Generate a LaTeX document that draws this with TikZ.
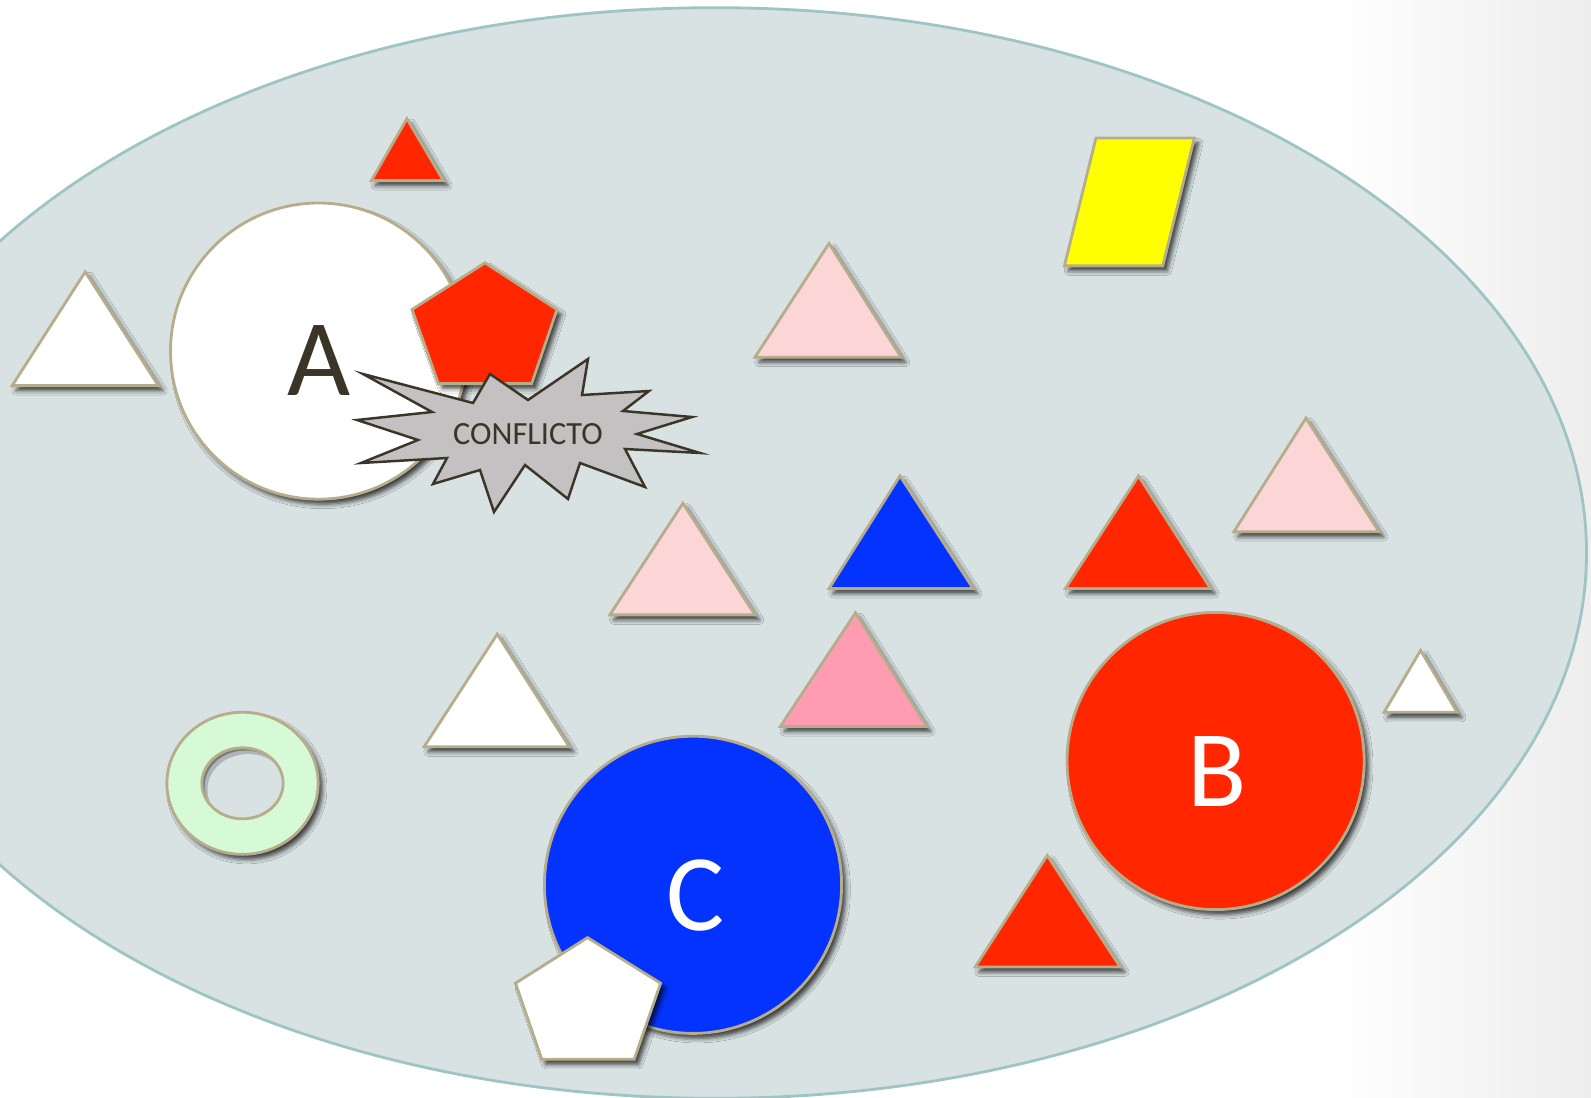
\documentclass[tikz,border=0pt]{standalone}
\usepackage{fontspec}
\setmainfont{Carlito}
\usepackage{tikz}
\usetikzlibrary{shadows.blur}

\definecolor{fondo}{HTML}{D9E2E3}
\definecolor{bordeel}{HTML}{9FC4C4}
\definecolor{caqui}{HTML}{B7AD8B}
\definecolor{rojo}{HTML}{FF2600}
\definecolor{azul}{HTML}{0433FF}
\definecolor{rosa}{HTML}{FCD5D6}
\definecolor{rosao}{HTML}{FF9CB1}
\definecolor{verde}{HTML}{D5FAD5}
\definecolor{gris}{HTML}{C3C1C1}
\definecolor{tinta}{HTML}{3A3527}
\definecolor{amarillo}{HTML}{FFFF00}

\tikzset{
  figura/.style={draw=caqui, line width=0.8pt, line join=miter,
    blur shadow={shadow xshift=1.2pt, shadow yshift=-1.4pt,
      shadow blur radius=1.3pt, shadow opacity=75}},
  estalla/.style={draw=tinta, fill=gris, line width=0.7pt, line join=miter},
  letra/.style={font=\fontsize{31}{31}\selectfont},
}

\begin{document}
\begin{tikzpicture}[x=0.01cm, y=-0.01cm]
\useasboundingbox (0,0) rectangle (1591,1097);
\clip (0,0) rectangle (1591,1097);
% fondo
\fill[white] (0,0) rectangle (1591,1097);
\shade[left color=white, right color=black!7] (1330,0) rectangle (1591,1097);
\draw[fill=fondo, draw=bordeel, line width=0.8pt] (715,553) ellipse [x radius=8.71cm, y radius=5.45cm];

% triangulos
\draw[figura, fill=rojo] (406.9,118.7) -- (443.4,180.6) -- (371.4,180.6) -- cycle;
\draw[figura, fill=white] (85.2,271.9) -- (158.3,385.6) -- (12.2,385.6) -- cycle;
\draw[figura, fill=rosa] (829,243.5) -- (901,357.2) -- (755,357.2) -- cycle;
\draw[figura, fill=rosa] (1305.9,418.1) -- (1379,531.7) -- (1233.9,531.7) -- cycle;
\draw[figura, fill=rojo] (1138.5,475.9) -- (1210.5,588.5) -- (1065.4,588.5) -- cycle;
\draw[figura, fill=azul] (900,475.9) -- (973.1,588.5) -- (829,588.5) -- cycle;
\draw[figura, fill=rosa] (682.9,503.3) -- (755,614.9) -- (609.8,614.9) -- cycle;
\draw[figura, fill=rosao] (855.4,612.9) -- (926.4,726.5) -- (780.3,726.5) -- cycle;
\draw[figura, fill=white] (497.2,634.2) -- (569.2,746.8) -- (424.1,746.8) -- cycle;
\draw[figura, fill=white] (1420.6,650.4) -- (1457.1,712.3) -- (1384,712.3) -- cycle;
\draw[figura, fill=rojo] (1047.2,855.4) -- (1120.2,967) -- (975.1,967) -- cycle;

% paralelogramo
\draw[figura, fill=amarillo] (1095.9,138) -- (1194.3,138) -- (1162.8,265.9) -- (1064.4,265.9) -- cycle;

% anillo
\coordinate (anillo) at (242.5,783.3);
\draw[figura, fill=verde] (anillo) ellipse [x radius=0.756cm, y radius=0.71cm];
\begin{scope}
  \clip (anillo) ellipse [x radius=0.406cm, y radius=0.355cm];
  \fill[fondo!55!black] (anillo) ellipse [x radius=0.406cm, y radius=0.355cm];
  \fill[fondo!80!black] ([xshift=0.8pt, yshift=-0.8pt]anillo) ellipse [x radius=0.406cm, y radius=0.355cm];
  \fill[fondo] ([xshift=1.6pt, yshift=-1.8pt]anillo) ellipse [x radius=0.406cm, y radius=0.355cm];
\end{scope}
\draw[draw=caqui, line width=0.8pt] (anillo) ellipse [x radius=0.406cm, y radius=0.355cm];

% circulos
\node[figura, circle, fill=white, minimum size=2.96cm] (circA) at (318.6,351.1) {};
\node[letra, text=tinta] (letA) at (318.6,360.2) {A};
\node[figura, circle, fill=rojo, minimum size=2.97cm] (circB) at (1215.6,761) {};
\node[letra, text=white] (letB) at (1217,772) {B};
\node[figura, circle, fill=azul, minimum size=2.97cm] (circC) at (693,884.8) {};
\node[letra, text=white] (letC) at (695.6,895) {C};

% pentagonos
\draw[figura, fill=rojo] (485,262.8) -- (557,309.5) -- (531.7,383.6) -- (438.4,383.6) -- (412,309.5) -- cycle;
\draw[figura, fill=white] (587.5,937.6) -- (660.6,983.2) -- (634.2,1059.3) -- (541.8,1059.3) -- (515.5,983.2) -- cycle;

% conflicto
\draw[estalla] (363,374) -- (473,403) -- (490,374) -- (528,400) -- (588,359) -- (582,395)
  -- (649,391) -- (623,411) -- (692,417) -- (637,434) -- (700,453) -- (625,449)
  -- (645,487) -- (580,463) -- (568,499) -- (525,465) -- (494,512) -- (480,470)
  -- (433,484) -- (447,458) -- (361,463) -- (418,440) -- (357,420) -- (432,412) -- cycle;
\node[text=tinta, font=\fontsize{9.2}{10}\selectfont] (conf) at (528,434) {CONFLICTO};
\end{tikzpicture}
\end{document}
